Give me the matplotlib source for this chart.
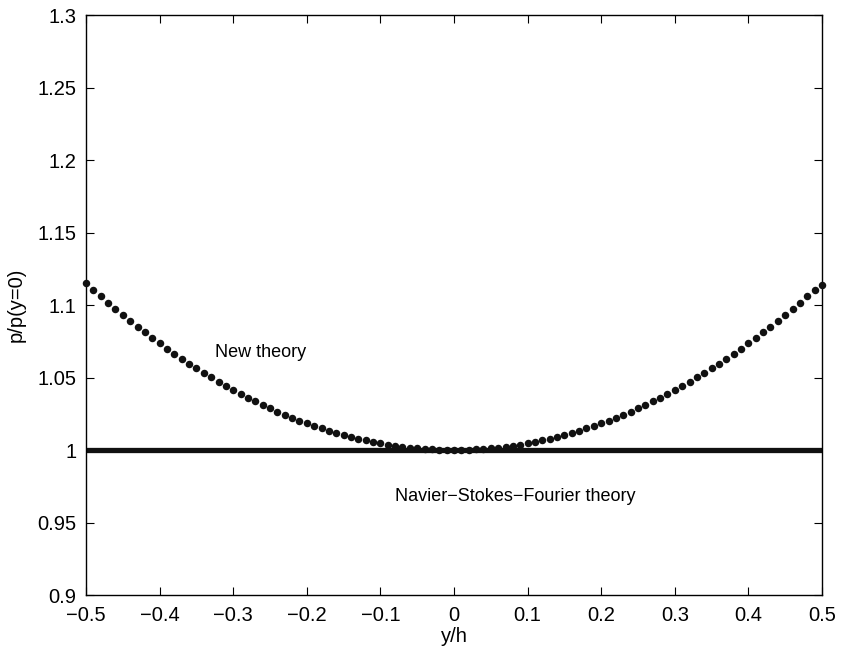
import numpy as np
import matplotlib
matplotlib.use("Agg")
import matplotlib.pyplot as plt

plt.rcParams['font.family'] = ['Liberation Sans', 'DejaVu Sans']

# y/h grid of the dotted curve
y_h = np.linspace(-0.5, 0.5, 101)
# p/p(y=0), new theory
p_new = [1.1150, 1.1105, 1.1060, 1.1016, 1.0973, 1.0932, 1.0891, 1.0851, 1.0811, 1.0773,
         1.0736, 1.0700, 1.0664, 1.0630, 1.0596, 1.0564, 1.0532, 1.0501, 1.0471, 1.0442,
         1.0414, 1.0387, 1.0361, 1.0335, 1.0311, 1.0288, 1.0265, 1.0243, 1.0223, 1.0203,
         1.0184, 1.0166, 1.0149, 1.0133, 1.0118, 1.0104, 1.0090, 1.0078, 1.0066, 1.0056,
         1.0046, 1.0037, 1.0029, 1.0023, 1.0017, 1.0012, 1.0007, 1.0004, 1.0002, 1.0001,
         1.0000,
         1.0001, 1.0002, 1.0004, 1.0007, 1.0012, 1.0017, 1.0023, 1.0029, 1.0037, 1.0046,
         1.0056, 1.0066, 1.0078, 1.0090, 1.0104, 1.0118, 1.0133, 1.0149, 1.0166, 1.0184,
         1.0203, 1.0223, 1.0243, 1.0265, 1.0288, 1.0311, 1.0335, 1.0361, 1.0387, 1.0414,
         1.0442, 1.0471, 1.0501, 1.0532, 1.0564, 1.0596, 1.0630, 1.0664, 1.0700, 1.0736,
         1.0773, 1.0811, 1.0851, 1.0891, 1.0932, 1.0973, 1.1016, 1.1060, 1.1105, 1.1140]
# Navier-Stokes-Fourier: flat
nsf_x = [-0.5, 0.5]
nsf_p = [1.0, 1.0]

xticks = [-0.5, -0.4, -0.3, -0.2, -0.1, 0, 0.1, 0.2, 0.3, 0.4, 0.5]
xlabels = ['\u22120.5', '\u22120.4', '\u22120.3', '\u22120.2', '\u22120.1', '0', '0.1', '0.2', '0.3', '0.4', '0.5']
yticks = [0.9, 0.95, 1, 1.05, 1.1, 1.15, 1.2, 1.25, 1.3]
ylabels = ['0.9', '0.95', '1', '1.05', '1.1', '1.15', '1.2', '1.25', '1.3']

fig = plt.figure(figsize=(8.41, 6.58), dpi=100)
ax = fig.add_axes([0.1023, 0.0957, 0.8751, 0.8815])

ax.plot(nsf_x, nsf_p, color='#111111', lw=3.8, solid_capstyle='butt', zorder=2)
ax.plot(y_h, p_new, 'o', color='#111111', ms=5.4, mec='none', zorder=3, clip_on=False)

ax.text(-0.325, 1.0675, 'New theory', fontsize=13, va='center', ha='left')
ax.text(-0.08, 0.968, 'Navier\u2212Stokes\u2212Fourier theory', fontsize=13, va='center', ha='left')

ax.set_xlim(-0.5, 0.5)
ax.set_ylim(0.9, 1.3)
ax.set_xticks(xticks)
ax.set_xticklabels(xlabels)
ax.set_yticks(yticks)
ax.set_yticklabels(ylabels)
ax.tick_params(direction='in', top=True, right=True, labelsize=14.5, length=6, width=0.8)
ax.tick_params(axis='y', pad=7)
ax.tick_params(axis='x', pad=8)
for s in ax.spines.values():
    s.set_linewidth(1.0)
ax.set_xlabel('y/h', fontsize=14.5, labelpad=1)
ax.set_ylabel('p/p(y=0)', fontsize=14.5, labelpad=8)

fig.savefig('out.png', dpi=100)
